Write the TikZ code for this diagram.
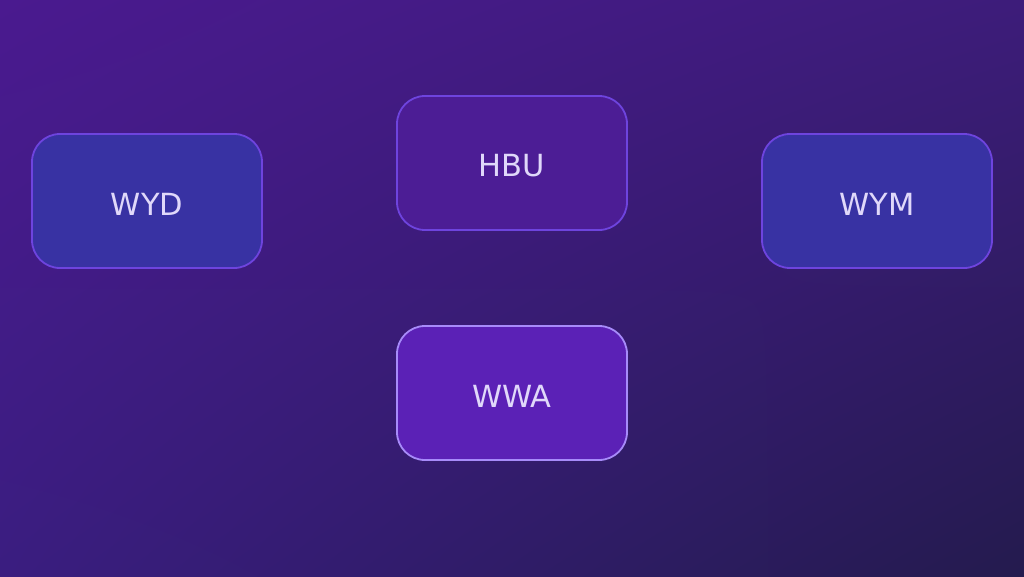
\documentclass[tikz,border=0pt]{standalone}
\usepackage{fontspec}
\setmainfont{DejaVu Sans}
\usetikzlibrary{shadings}
\definecolor{bgTL}{HTML}{4A1A8F}
\definecolor{bgTR}{HTML}{3D1C7A}
\definecolor{bgBL}{HTML}{3A1D80}
\definecolor{bgBR}{HTML}{241B4E}
\definecolor{indigoFill}{HTML}{3832A3}
\definecolor{violetDark}{HTML}{4C1D95}
\definecolor{violetMid}{HTML}{5B21B6}
\definecolor{borderMid}{HTML}{6E44DE}
\definecolor{borderLight}{HTML}{A78BFA}
\definecolor{labelText}{HTML}{E0D8FA}
\tikzset{
  card/.style={rectangle, rounded corners=28pt, minimum width=230pt, minimum height=134pt,
    line width=1.8pt, inner sep=0pt},
  cardIndigo/.style={card, fill=indigoFill, draw=borderMid},
  cardViolet/.style={card, fill=violetDark, draw=borderMid},
  cardAccent/.style={card, fill=violetMid, draw=borderLight},
  cardLabel/.style={text=labelText, font=\fontsize{30.5}{34}\selectfont, inner sep=0pt},
}
\begin{document}
\begin{tikzpicture}[x=1pt,y=-1pt]
\useasboundingbox (0,0) rectangle (1024,576);
\shade[upper left=bgTL, upper right=bgTR, lower left=bgBL, lower right=bgBR] (0,0) rectangle (1024,576);
\node[cardIndigo] (wyd) at (147,201) {};
\node[cardViolet] (hbu) at (512,163) {};
\node[cardIndigo] (wym) at (877,201) {};
\node[cardAccent] (wwa) at (512,393) {};
\node[cardLabel] (wydL) at ([yshift=-3pt]wyd.center) {WYD};
\node[cardLabel] (hbuL) at ([yshift=-3pt]hbu.center) {HBU};
\node[cardLabel] (wymL) at ([yshift=-3pt]wym.center) {WYM};
\node[cardLabel] (wwaL) at ([yshift=-3pt]wwa.center) {WWA};
\end{tikzpicture}
\end{document}
